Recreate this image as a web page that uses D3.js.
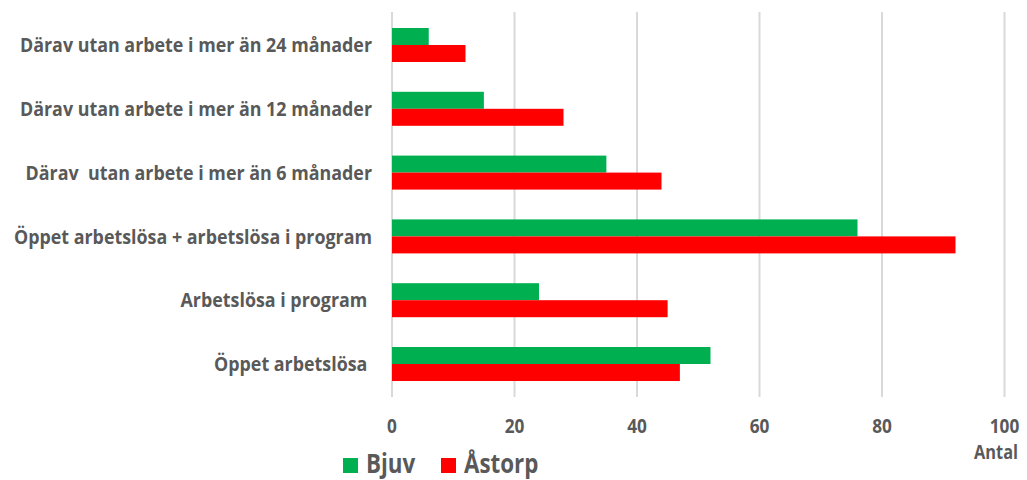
<!DOCTYPE html>
<html>
<head>
<meta charset="utf-8">
<script src="https://cdn.jsdelivr.net/npm/d3@7"></script>
<style>
  body { margin: 0; background: #fff; }
  svg text { font-family: "Open Sans", sans-serif; font-weight: 700; fill: #595959; white-space: pre; }
</style>
</head>
<body>
<svg width="1027" height="480"></svg>
<script>
//data, top to bottom
var categories = [
    "Därav utan arbete i mer än 24 månader",
    "Därav utan arbete i mer än 12 månader",
    "Därav  utan arbete i mer än 6 månader",
    "Öppet arbetslösa + arbetslösa i program",
    "Arbetslösa i program ",
    "Öppet arbetslösa "
];
var seriesNames = ["Bjuv", "Åstorp"];
var bjuv = [6, 15, 35, 76, 24, 52];
var astorp = [12, 28, 44, 92, 45, 47];
var xTicks = [0, 20, 40, 60, 80, 100];
var axisTitle = "Antal";

var colors = d3.scaleOrdinal().domain(seriesNames).range(["#00B050", "#FF0000"]);

var svg = d3.select("svg");

var x = d3.scaleLinear().domain([0, 100]).range([392, 1004.5]);
var y = d3.scaleBand().domain(categories).range([13, 396]).paddingInner(0.467).paddingOuter(0.235);
var y1 = d3.scaleBand().domain(seriesNames).range([0, y.bandwidth()]);

//squeeze text to look like the narrow original font
function squeeze(sel, k) {
    sel.each(function () {
        var w = this.getComputedTextLength();
        d3.select(this).attr("textLength", w * k).attr("lengthAdjust", "spacingAndGlyphs");
    });
}

//gridlines
svg.append("g")
    .selectAll("line")
    .data(xTicks)
    .enter()
    .append("line")
    .attr("x1", function (d) { return x(d); })
    .attr("x2", function (d) { return x(d); })
    .attr("y1", 12)
    .attr("y2", 397)
    .attr("stroke", "#d9d9d9")
    .attr("stroke-width", 2);

//bars
var rows = categories.map(function (c, i) {
    return { cat: c, values: [{ s: "Bjuv", v: bjuv[i] }, { s: "Åstorp", v: astorp[i] }] };
});

var group = svg.append("g")
    .selectAll("g")
    .data(rows)
    .enter()
    .append("g")
    .attr("transform", function (d) { return "translate(0," + y(d.cat) + ")"; });

group.selectAll("rect")
    .data(function (d) { return d.values; })
    .enter()
    .append("rect")
    .attr("x", x(0))
    .attr("y", function (d) { return y1(d.s); })
    .attr("width", function (d) { return x(d.v) - x(0); })
    .attr("height", y1.bandwidth())
    .attr("fill", function (d) { return colors(d.s); });

//category labels
var labels = svg.append("g")
    .selectAll("text")
    .data(categories)
    .enter()
    .append("text")
    .attr("x", 372)
    .attr("y", function (d) { return y(d) + y.bandwidth() / 2; })
    .attr("dy", "0.36em")
    .attr("text-anchor", "end")
    .style("font-size", "20px")
    .text(function (d) { return d; });

var k = 352 / labels.node().getComputedTextLength();
squeeze(labels, k);

//tick labels
var ticks = svg.append("g")
    .selectAll("text")
    .data(xTicks)
    .enter()
    .append("text")
    .attr("x", function (d) { return x(d); })
    .attr("y", 433)
    .attr("text-anchor", "middle")
    .style("font-size", "20px")
    .text(function (d) { return d; });
squeeze(ticks, 0.86);

var title = svg.append("text")
    .attr("x", 1018)
    .attr("y", 459)
    .attr("text-anchor", "end")
    .style("font-size", "19px")
    .text(axisTitle);
squeeze(title, 0.86);

//legend
var legendPos = [343, 441];
var legend = svg.append("g")
    .selectAll("g")
    .data(seriesNames)
    .enter()
    .append("g")
    .attr("transform", function (d, i) { return "translate(" + legendPos[i] + ",0)"; });

legend.append("rect")
    .attr("y", 458)
    .attr("width", 15)
    .attr("height", 15)
    .attr("fill", function (d) { return colors(d); });

var legendText = legend.append("text")
    .attr("x", 23)
    .attr("y", 473)
    .style("font-size", "26px")
    .text(function (d) { return d; });
squeeze(legendText, 0.86);
</script>
</body>
</html>
